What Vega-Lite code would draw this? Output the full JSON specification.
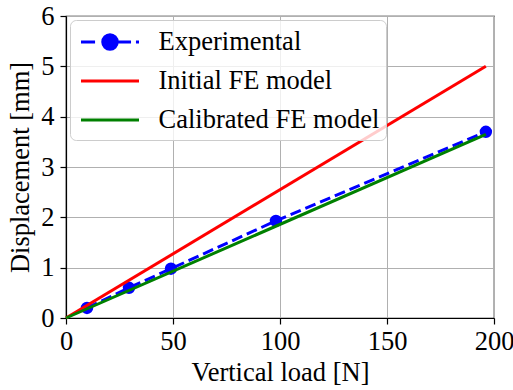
{
  "$schema": "https://vega.github.io/schema/vega-lite/v6.json",
  "width": 428,
  "height": 302,
  "autosize": {"type": "none"},
  "padding": {"left": 66, "top": 16, "right": 19, "bottom": 72},
  "background": "white",
  "config": {
    "font": "Liberation Serif",
    "style": {
      "guide-label": {"font": "Liberation Serif", "fontSize": 26.5, "fill": "black"},
      "guide-title": {"font": "Liberation Serif", "fontSize": 26.5, "fill": "black", "fontWeight": "normal"}
    },
    "view": {"stroke": "black", "strokeWidth": 1.2},
    "axis": {
      "labelFont": "Liberation Serif",
      "labelFontSize": 26.5,
      "labelColor": "black",
      "titleFont": "Liberation Serif",
      "titleFontSize": 26.5,
      "titleFontWeight": "normal",
      "titleColor": "black",
      "domainColor": "black",
      "domainWidth": 1.2,
      "tickColor": "black",
      "tickWidth": 1.2,
      "tickSize": 6,
      "gridColor": "#b0b0b0",
      "gridWidth": 1
    },
    "legend": {
      "labelFont": "Liberation Serif",
      "labelFontSize": 26.5,
      "labelColor": "black"
    }
  },
  "data": {
    "values": [
      {"series": "Experimental", "load": 9.81, "disp": 0.2},
      {"series": "Experimental", "load": 29.43, "disp": 0.6},
      {"series": "Experimental", "load": 49.05, "disp": 0.98},
      {"series": "Experimental", "load": 98.1, "disp": 1.93},
      {"series": "Experimental", "load": 196.2, "disp": 3.7},
      {"series": "Initial FE model", "load": 0, "disp": 0},
      {"series": "Initial FE model", "load": 196.2, "disp": 5.0},
      {"series": "Calibrated FE model", "load": 0, "disp": 0},
      {"series": "Calibrated FE model", "load": 196.2, "disp": 3.65}
    ]
  },
  "encoding": {
    "x": {
      "field": "load",
      "type": "quantitative",
      "scale": {"domain": [0, 200], "nice": false, "zero": false},
      "axis": {"values": [0, 50, 100, 150, 200], "title": "Vertical load [N]", "labelFont": "Liberation Serif", "titleFont": "Liberation Serif", "labelPadding": 4, "titlePadding": 5, "labelFlush": false}
    },
    "y": {
      "field": "disp",
      "type": "quantitative",
      "scale": {"domain": [0, 6], "nice": false, "zero": false},
      "axis": {"values": [0, 1, 2, 3, 4, 5, 6], "title": "Displacement [mm]", "labelFont": "Liberation Serif", "titleFont": "Liberation Serif", "labelPadding": 6, "titlePadding": 6, "labelFlush": false}
    }
  },
  "layer": [
    {
      "transform": [{"filter": "datum.series === 'Experimental'"}],
      "mark": {"type": "line", "color": "#0000ff", "strokeWidth": 3, "strokeDash": [11, 5]}
    },
    {
      "transform": [{"filter": "datum.series === 'Experimental'"}],
      "mark": {"type": "circle", "color": "#0000ff", "size": 154, "opacity": 1}
    },
    {
      "transform": [{"filter": "datum.series === 'Initial FE model'"}],
      "mark": {"type": "line", "strokeWidth": 3, "color": "#ff0000"}
    },
    {
      "transform": [{"filter": "datum.series === 'Calibrated FE model'"}],
      "mark": {"type": "line", "strokeWidth": 3, "color": "#008000"}
    },
    {
      "mark": {"type": "point", "filled": true, "opacity": 0},
      "encoding": {
        "color": {
          "field": "series",
          "type": "nominal",
          "scale": {"domain": ["Experimental", "Initial FE model", "Calibrated FE model"], "range": ["#0000ff", "#ff0000", "#008000"]},
          "legend": {
            "title": null,
            "orient": "top-left",
            "offset": 4,
            "padding": 6,
            "rowPadding": 9,
            "symbolSize": 841,
            "symbolOffset": 18,
            "labelOffset": 32.5,
            "fillColor": "rgba(255,255,255,0.8)",
            "strokeColor": "#cccccc",
            "cornerRadius": 6,
            "labelLimit": 400,
            "labelFont": "Liberation Serif",
            "encode": {
              "symbols": {
                "update": {
                  "shape": {"scale": "shape", "field": "value"},
                  "stroke": {"scale": "color", "field": "value"},
                  "fill": {"scale": "color", "field": "value"},
                  "strokeWidth": {"value": 3},
                  "opacity": {"value": 1},
                  "fillOpacity": {"value": 1},
                  "strokeOpacity": {"value": 1}
                }
              }
            }
          }
        },
        "shape": {
          "field": "series",
          "type": "nominal",
          "scale": {
            "domain": ["Experimental", "Initial FE model", "Calibrated FE model"],
            "range": [
              "M-2,0H-1.03M0.48,0H1.45M1.79,0H2M-0.5,0H0.5M0.5,0A0.5,0.5,0,1,1,-0.5,0A0.5,0.5,0,1,1,0.5,0Z",
              "M-2,0H2",
              "M-2,0H2"
            ]
          },
          "legend": {
            "title": null,
            "orient": "top-left",
            "offset": 4,
            "padding": 6,
            "rowPadding": 9,
            "symbolSize": 841,
            "symbolOffset": 18,
            "labelOffset": 32.5,
            "fillColor": "rgba(255,255,255,0.8)",
            "strokeColor": "#cccccc",
            "cornerRadius": 6,
            "labelLimit": 400,
            "labelFont": "Liberation Serif"
          }
        }
      }
    }
  ]
}
